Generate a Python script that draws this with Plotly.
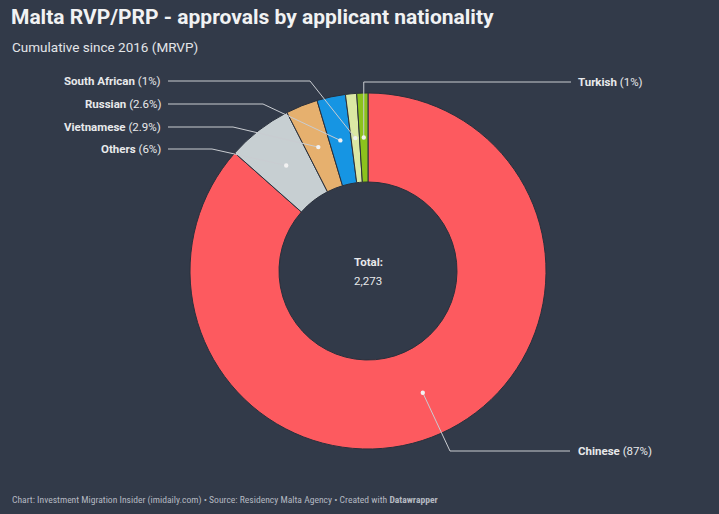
import math
import plotly.graph_objects as go

# data
nationalities = ["Chinese", "Others", "Vietnamese", "Russian", "South African", "Turkish"]
approvals = [1967, 135, 66, 59, 23, 23]
pct_labels = ["87%", "6%", "2.9%", "2.6%", "1%", "1%"]
total = 2273

colors = ["#fd5a5f", "#c7cfd2", "#e6b06e", "#1695e3", "#dbe8a4", "#8cc21d"]
bg = "#323a49"

# donut geometry in pixels (figure is 719x514)
W, H = 719, 514
cx, cy, R = 368, 271, 178
hole = 0.5
r_dot = R * (1 + hole) / 2

# label placement: (label x, label y, side, elbow x); elbow None = go straight to the dot
label_pos = {
    "South African": (163, 81, "left", 310),
    "Russian": (163, 104, "left", 263),
    "Vietnamese": (163, 127, "left", 233),
    "Others": (163, 149, "left", 212),
    "Turkish": (576, 82, "right", None),
    "Chinese": (576, 451, "right", 450),
}

fig = go.Figure()
fig.add_trace(go.Pie(
    labels=nationalities, values=approvals, hole=hole,
    sort=False, direction="clockwise", rotation=0,
    marker=dict(colors=colors, line=dict(color="#2a303c", width=1)),
    textinfo="none", hoverinfo="label+value+percent",
    domain=dict(x=[(cx - R) / W, (cx + R) / W], y=[1 - (cy + R) / H, 1 - (cy - R) / H]),
    showlegend=False,
))

shapes = []
annotations = []
cum = 0
for name, val, pct in zip(nationalities, approvals, pct_labels):
    mid = (cum + val / 2) / sum(approvals)
    cum += val
    th = 2 * math.pi * mid
    dx, dy = cx + r_dot * math.sin(th), cy - r_dot * math.cos(th)
    lx, ly, side, ex = label_pos[name]
    lc = "#c9ccd1"
    if side == "left":
        pts = [(lx + 5, ly), (ex, ly), (dx, dy)]
    elif ex is None:
        pts = [(lx - 5, ly), (dx, ly), (dx, dy)]
    else:
        pts = [(lx - 6, ly), (ex, ly), (dx, dy)]
    for (x0, y0), (x1, y1) in zip(pts[:-1], pts[1:]):
        shapes.append(dict(type="line", xref="x", yref="y", x0=x0, y0=y0, x1=x1, y1=y1,
                           line=dict(color=lc, width=1)))
    shapes.append(dict(type="circle", xref="x", yref="y", x0=dx - 2.2, x1=dx + 2.2,
                       y0=dy - 2.2, y1=dy + 2.2, fillcolor="#f2f2f2", line=dict(width=0)))
    annotations.append(dict(
        x=lx, y=ly, xref="x", yref="y", showarrow=False,
        xanchor="right" if side == "left" else "left", yanchor="middle",
        text=f"<b>{name}</b> ({pct})",
        font=dict(family="Roboto", size=11.5, color="#e8e9eb"),
    ))

annotations += [
    dict(x=9, y=17, xref="x", yref="y", showarrow=False, xanchor="left", yanchor="middle",
         text="<b>Malta RVP/PRP - approvals by applicant nationality</b>",
         font=dict(family="Roboto", size=21, color="#f1f2f3")),
    dict(x=10, y=47, xref="x", yref="y", showarrow=False, xanchor="left", yanchor="middle",
         text="Cumulative since 2016 (MRVP)",
         font=dict(family="Roboto", size=13.5, color="#e3e5e8")),
    dict(x=cx, y=262, xref="x", yref="y", showarrow=False, yanchor="middle",
         text="<b>Total:</b>", font=dict(family="Roboto", size=11.5, color="#e8e9eb")),
    dict(x=cx, y=281, xref="x", yref="y", showarrow=False, yanchor="middle",
         text=f"{total:,}", font=dict(family="Roboto", size=11.5, color="#e8e9eb")),
    dict(x=10, y=500, xref="x", yref="y", showarrow=False, xanchor="left", yanchor="middle",
         text="Chart: Investment Migration Insider (imidaily.com) • Source: Residency Malta Agency • Created with <b>Datawrapper</b>",
         font=dict(family="Roboto Condensed, DejaVu Sans Condensed, serif", size=9.6, color="#b4b9c1")),
]

fig.update_layout(
    width=W, height=H,
    margin=dict(l=0, r=0, t=0, b=0),
    paper_bgcolor=bg, plot_bgcolor=bg,
    xaxis=dict(range=[0, W], visible=False, fixedrange=True),
    yaxis=dict(range=[H, 0], visible=False, fixedrange=True),
    shapes=shapes, annotations=annotations,
)
fig.write_html("out.html", config={"displayModeBar": False},
               post_script="document.body.style.margin='0';document.body.style.overflow='hidden';")
